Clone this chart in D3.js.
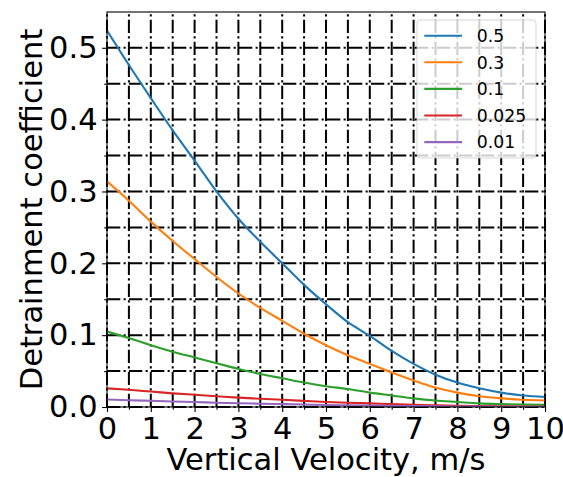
<!DOCTYPE html>
<html>
<head>
<meta charset="utf-8">
<script src="https://cdn.jsdelivr.net/npm/d3@7"></script>
<style>
  html, body { margin: 0; padding: 0; background: #fff; }
  svg { display: block; font-family: "DejaVu Sans", sans-serif; }
</style>
</head>
<body>
<svg id="chart" width="563" height="477"></svg>
<script>
// ---- data ----
const velocity = [0, 0.5, 1, 1.5, 2, 2.5, 3, 3.5, 4, 4.5, 5, 5.5, 6, 6.5, 7, 7.5, 8, 8.5, 9, 9.5, 10];
const seriesNames = ["0.5", "0.3", "0.1", "0.025", "0.01"];
const s05 = [0.524, 0.476, 0.430, 0.385, 0.343, 0.300, 0.262, 0.230, 0.200, 0.170, 0.143, 0.118, 0.099, 0.078, 0.060, 0.045, 0.034, 0.026, 0.020, 0.016, 0.014];
const s03 = [0.314, 0.287, 0.258, 0.231, 0.206, 0.181, 0.158, 0.138, 0.120, 0.102, 0.086, 0.072, 0.060, 0.048, 0.037, 0.027, 0.020, 0.015, 0.012, 0.010, 0.009];
const s01 = [0.105, 0.096, 0.086, 0.077, 0.069, 0.061, 0.053, 0.046, 0.040, 0.034, 0.029, 0.025, 0.020, 0.016, 0.012, 0.009, 0.007, 0.005, 0.004, 0.0033, 0.003];
const s0025 = [0.026, 0.024, 0.0215, 0.019, 0.017, 0.015, 0.013, 0.0115, 0.010, 0.0085, 0.007, 0.006, 0.005, 0.004, 0.003, 0.0023, 0.0017, 0.0013, 0.001, 0.0008, 0.0007];
const s001 = [0.0105, 0.0095, 0.0086, 0.0077, 0.0069, 0.006, 0.0052, 0.0046, 0.004, 0.0034, 0.0028, 0.0024, 0.002, 0.0016, 0.0012, 0.0009, 0.0007, 0.0005, 0.0004, 0.0003, 0.0003];
const seriesValues = [s05, s03, s01, s0025, s001];
const colors = ["#1f77b4", "#ff7f0e", "#2ca02c", "#d62728", "#9467bd"];
const xTicks = [0, 1, 2, 3, 4, 5, 6, 7, 8, 9, 10];
const xMinorTicks = [0.5, 1.5, 2.5, 3.5, 4.5, 5.5, 6.5, 7.5, 8.5, 9.5];
const yTicks = [0, 0.1, 0.2, 0.3, 0.4, 0.5];
const yMinorTicks = [0.05, 0.15, 0.25, 0.35, 0.45];
const xLabel = "Vertical Velocity, m/s";
const yLabel = "Detrainment coefficient";

// ---- layout ----
const L = 107, R = 545, T = 12, B = 407;
const FS = 30.5;
const svg = d3.select("#chart");
const x = d3.scaleLinear().domain([0, 10]).range([L, R]);
const y = d3.scaleLinear().domain([0, 0.5498]).range([B, T]);

const dash = "13.3,3.3,2.1,3.3";
const gridG = svg.append("g");
[...xTicks, ...xMinorTicks].forEach(v => {
  gridG.append("line").attr("x1", x(v)).attr("x2", x(v)).attr("y1", B).attr("y2", T)
    .attr("stroke", "#000").attr("stroke-width", 2).attr("stroke-dasharray", dash);
});
[...yTicks, ...yMinorTicks].forEach(v => {
  gridG.append("line").attr("x1", L).attr("x2", R).attr("y1", y(v)).attr("y2", y(v))
    .attr("stroke", "#000").attr("stroke-width", 2).attr("stroke-dasharray", dash);
});

svg.append("clipPath").attr("id", "clip").append("rect")
  .attr("x", L).attr("y", T).attr("width", R - L).attr("height", B - T);

const line = d3.line().x((d, i) => x(velocity[i])).y(d => y(d)).curve(d3.curveMonotoneX);
const linesG = svg.append("g").attr("clip-path", "url(#clip)");
seriesValues.forEach((vals, k) => {
  linesG.append("path").datum(vals).attr("d", line)
    .attr("fill", "none").attr("stroke", colors[k]).attr("stroke-width", 2.1);
});

const xAxis = d3.axisBottom(x).tickValues(xTicks).tickFormat(d3.format("d")).tickSizeOuter(0).tickSize(4.9).tickPadding(5);
const xMinor = d3.axisBottom(x).tickValues(xMinorTicks).tickFormat("").tickSizeOuter(0).tickSize(2.8);
const yAxis = d3.axisLeft(y).tickValues(yTicks).tickFormat(d3.format(".1f")).tickSizeOuter(0).tickSize(4.9).tickPadding(4.5);
const yMinor = d3.axisLeft(y).tickValues(yMinorTicks).tickFormat("").tickSizeOuter(0).tickSize(2.8);

function style(g) {
  g.select(".domain").remove();
  g.selectAll("line").attr("stroke", "#000").attr("stroke-width", 1.1);
  g.selectAll("text").attr("font-family", "DejaVu Sans").attr("font-size", FS).attr("fill", "#000");
}
svg.append("g").attr("transform", `translate(0,${B})`).call(xAxis).call(style);
svg.append("g").attr("transform", `translate(0,${B})`).call(xMinor).call(style);
svg.append("g").attr("transform", `translate(${L},0)`).call(yAxis).call(style);
svg.append("g").attr("transform", `translate(${L},0)`).call(yMinor).call(style);

svg.append("rect").attr("x", L).attr("y", T).attr("width", R - L).attr("height", B - T)
  .attr("fill", "none").attr("stroke", "#000").attr("stroke-width", 1.1);

svg.append("text").attr("x", (L + R) / 2).attr("y", 470).attr("text-anchor", "middle")
  .attr("font-size", FS).attr("fill", "#000").text(xLabel);
svg.append("text").attr("transform", `translate(42,${(T + B) / 2}) rotate(-90)`)
  .attr("text-anchor", "middle").attr("font-size", FS).attr("fill", "#000").text(yLabel);

const lg = svg.append("g");
lg.append("rect").attr("x", 417).attr("y", 20).attr("width", 119).attr("height", 138)
  .attr("rx", 3.5).attr("fill", "#fff").attr("fill-opacity", 0.8)
  .attr("stroke", "#ccc").attr("stroke-opacity", 0.8).attr("stroke-width", 1);
seriesNames.forEach((name, k) => {
  const yy = 35.7 + k * 26.6;
  lg.append("line").attr("x1", 424.3).attr("x2", 462).attr("y1", yy).attr("y2", yy)
    .attr("stroke", colors[k]).attr("stroke-width", 2.1);
  lg.append("text").attr("x", 476.7).attr("y", yy + 6.3).attr("font-size", 17.3)
    .attr("fill", "#000").text(name);
});
</script>
</body>
</html>
